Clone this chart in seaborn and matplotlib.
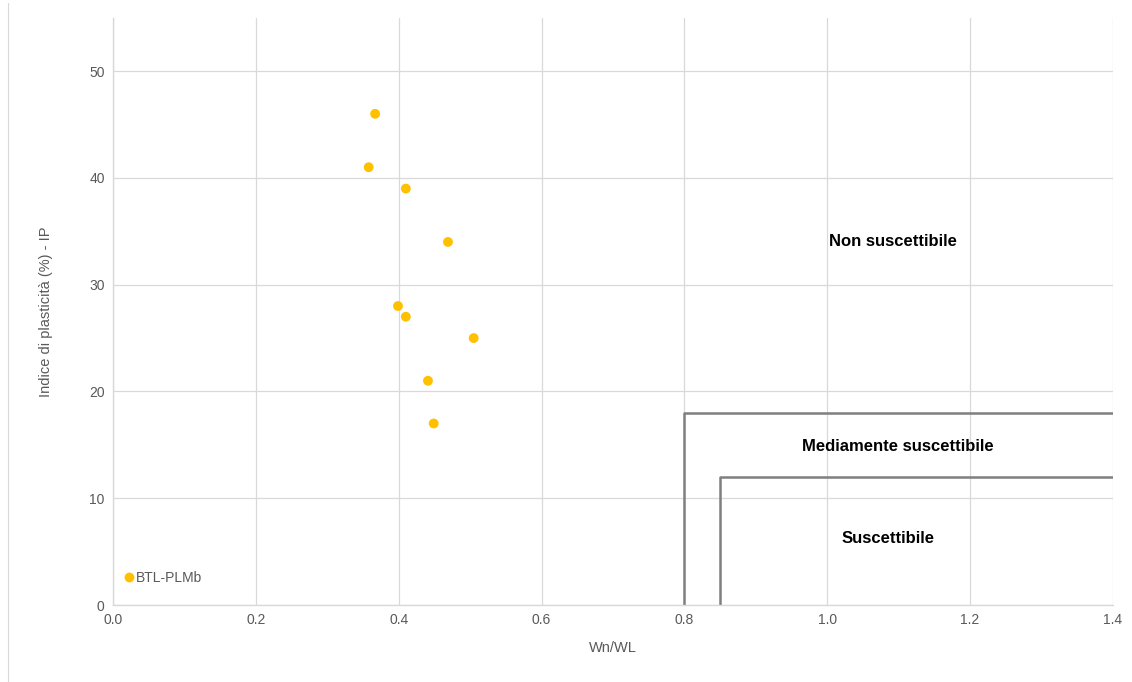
import numpy as np
import pandas as pd
import matplotlib
matplotlib.use("Agg")
import matplotlib.pyplot as plt
import seaborn as sns

#data
wn_wl = [0.367, 0.358, 0.410, 0.469, 0.399, 0.410, 0.505, 0.441, 0.449]
ip = [46, 41, 39, 34, 28, 27, 25, 21, 17]
series_name = "BTL-PLMb"

#zone boundaries
zone_medium_x = [0.8, 0.8, 1.4]
zone_medium_y = [0, 18, 18]
zone_susc_x = [0.85, 0.85, 1.4]
zone_susc_y = [0, 12, 12]

zone_labels = ["Non suscettibile", "Mediamente suscettibile", "Suscettibile"]
zone_label_x = [1.092, 1.099, 1.085]
zone_label_y = [34, 14.8, 6.2]

df = pd.DataFrame({"Wn/WL": wn_wl, "IP": ip, "serie": series_name})

sns.set_style("white")
plt.rcParams["font.family"] = ["Liberation Sans", "DejaVu Sans"]

fig = plt.figure(figsize=(11.32, 6.82), dpi=100)
ax = fig.add_axes([0.0998, 0.1129, 0.8834, 0.8611])

grid_col = "#d9d9d9"
text_col = "#595959"

sns.scatterplot(data=df, x="Wn/WL", y="IP", hue="serie", palette=["#FFC000"],
                s=50, edgecolor="none", ax=ax, zorder=3)

ax.plot(zone_medium_x, zone_medium_y, color="#7f7f7f", lw=1.8, zorder=2)
ax.plot(zone_susc_x, zone_susc_y, color="#7f7f7f", lw=1.8, zorder=2)

for lab, lx, ly in zip(zone_labels, zone_label_x, zone_label_y):
    ax.text(lx, ly, lab, ha="center", va="center", fontsize=12,
            fontweight="bold", color="black")

ax.set_xlim(0, 1.4)
ax.set_ylim(0, 55)
ax.set_xticks(np.arange(0, 1.41, 0.2))
ax.set_xticklabels([f"{v:.1f}" for v in np.arange(0, 1.41, 0.2)])
ax.set_yticks(range(0, 51, 10))

ax.grid(True, color=grid_col, lw=0.9)
ax.set_axisbelow(True)
for side in ["top", "right"]:
    ax.spines[side].set_visible(False)
for side in ["left", "bottom"]:
    ax.spines[side].set_color(grid_col)
    ax.spines[side].set_linewidth(1.0)

ax.tick_params(axis="both", length=0, labelsize=10, labelcolor=text_col, pad=6)
ax.set_xlabel("Wn/WL", fontsize=10.5, color=text_col, labelpad=10)
ax.set_ylabel("Indice di plasticità (%) - IP", fontsize=10.5, color=text_col, labelpad=26)

leg = ax.legend(loc="lower left", frameon=False, fontsize=10, handlelength=1.0,
                handletextpad=0.0, borderpad=0.0, borderaxespad=0.0,
                bbox_to_anchor=(0.009, 0.034))
for t in leg.get_texts():
    t.set_color(text_col)

#thin frame line at left edge of image
fig.add_artist(plt.Line2D([0.0075, 0.0075], [0.0, 0.995], color=grid_col, lw=0.8))

plt.savefig("out.png", dpi=100)
